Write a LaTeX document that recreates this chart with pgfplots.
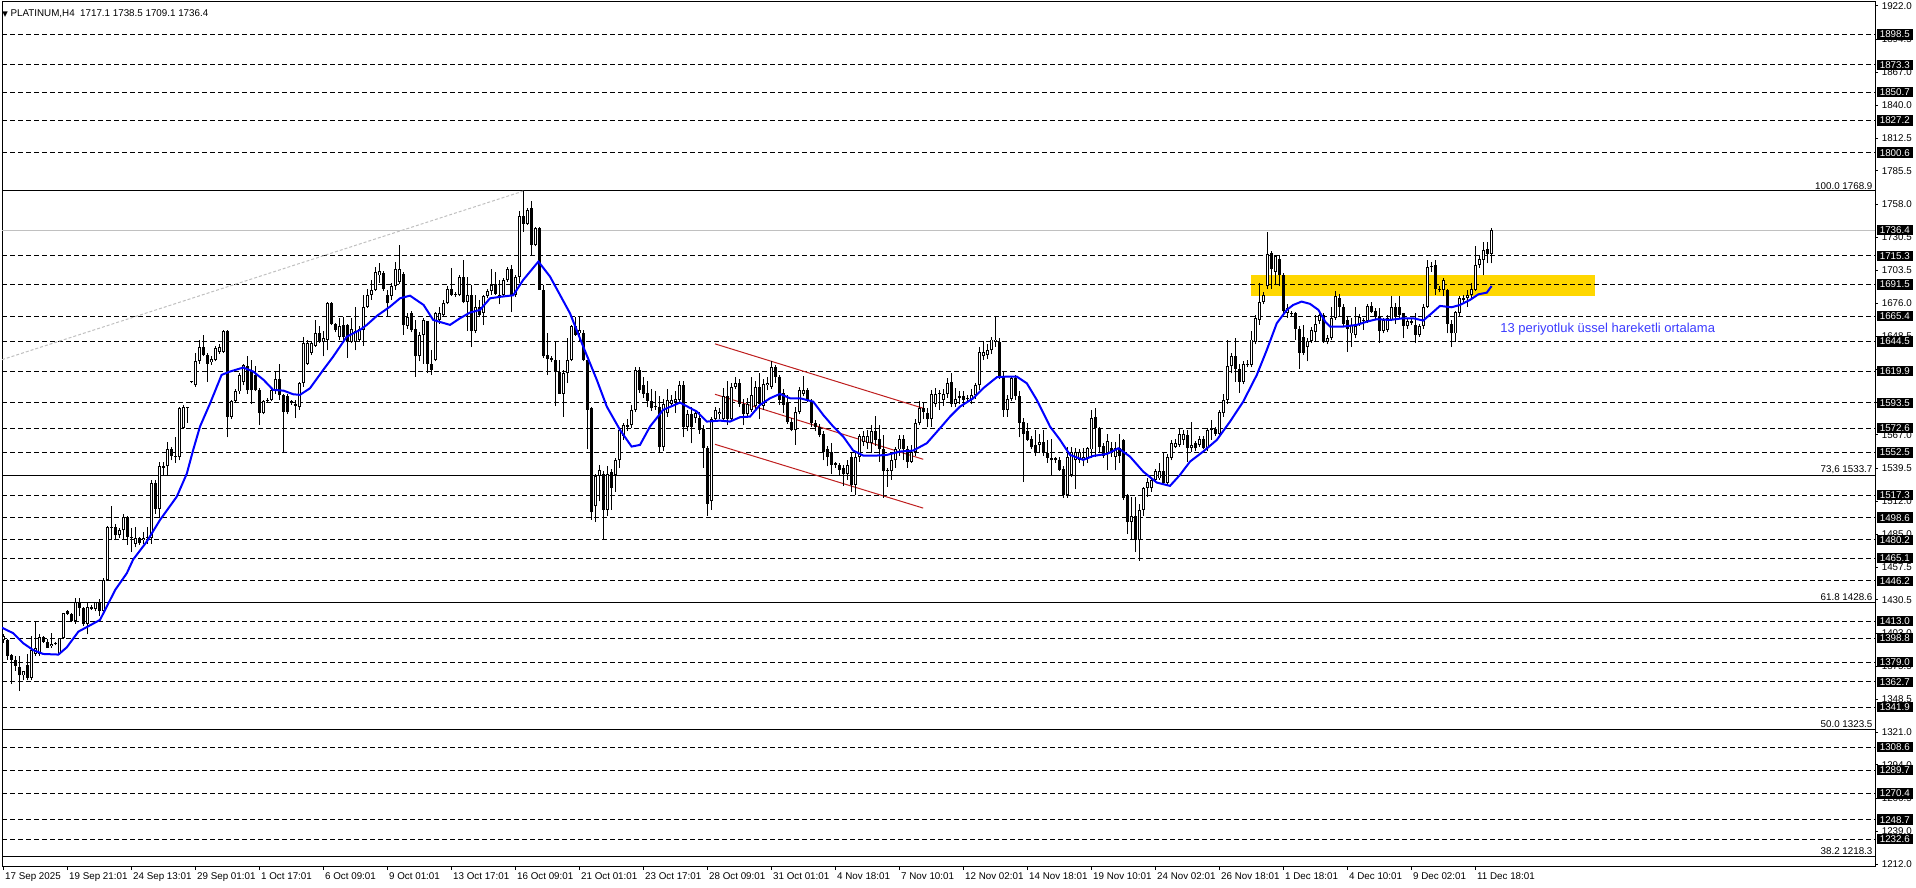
\documentclass[border=0pt]{standalone}
\usepackage{pgfplots}
\pgfplotsset{compat=1.18}
\usepackage{pgfplotstable}
\usepackage{fontspec}
\setmainfont{Liberation Sans}
\newfontfamily\dejavu{DejaVu Sans}
\definecolor{gold}{RGB}{255,215,0}
\definecolor{chanred}{RGB}{190,30,30}
\definecolor{emablue}{RGB}{0,0,255}
\definecolor{txtblue}{RGB}{60,60,255}
\definecolor{silverline}{RGB}{192,192,192}

\pgfplotstableread{
i o h l c
0 1397 1402 1395 1401
1 1397 1398 1381 1384
2 1385 1386 1361 1381
3 1381 1384 1372 1376
4 1375 1384 1355 1368
5 1368 1372 1364 1372
6 1377 1386 1364 1366
7 1366 1401 1364 1389
8 1386 1412 1384 1391
9 1386 1402 1384 1400
10 1400 1401 1395 1396
11 1396 1398 1391 1391
12 1392 1403 1391 1394
13 1395 1396 1393 1394
14 1386 1399 1385 1399
15 1399 1420 1398 1420
16 1421 1422 1418 1419
17 1419 1420 1412 1413
18 1413 1432 1411 1429
19 1429 1432 1417 1424
20 1424 1425 1409 1411
21 1411 1428 1402 1425
22 1425 1426 1422 1423
23 1423 1429 1421 1429
24 1429 1431 1417 1421
25 1421 1449 1420 1447
26 1447 1492 1446 1491
27 1490 1508 1480 1491
28 1491 1493 1480 1484
29 1484 1490 1482 1488
30 1488 1502 1480 1499
31 1499 1500 1476 1483
32 1483 1490 1470 1482
33 1477 1491 1474 1482
34 1482 1483 1476 1478
35 1480 1487 1477 1482
36 1483 1491 1477 1482
37 1482 1530 1477 1527
38 1527 1530 1502 1506
39 1506 1545 1498 1541
40 1540 1545 1533 1541
41 1541 1561 1533 1555
42 1555 1557 1546 1550
43 1550 1565 1544 1549
44 1549 1590 1546 1589
45 1573 1592 1572 1590
46 1589 1590 1577 1589
47 1611 1612 1610 1611
48 1608 1635 1607 1628
49 1628 1646 1626 1640
50 1640 1650 1632 1633
51 1633 1635 1611 1626
52 1627 1632 1625 1630
53 1629 1641 1628 1639
54 1636 1642 1634 1640
55 1636 1654 1635 1653
56 1653 1654 1565 1582
57 1582 1596 1580 1595
58 1595 1605 1594 1603
59 1603 1618 1601 1617
60 1611 1626 1608 1625
61 1624 1632 1601 1604
62 1620 1629 1593 1604
63 1617 1624 1603 1604
64 1604 1606 1575 1585
65 1585 1596 1584 1595
66 1595 1598 1594 1596
67 1596 1605 1595 1604
68 1604 1620 1601 1613
69 1613 1626 1596 1600
70 1600 1601 1552 1586
71 1599 1601 1584 1586
72 1595 1596 1592 1594
73 1593 1596 1581 1591
74 1590 1611 1588 1610
75 1610 1648 1607 1643
76 1626 1646 1625 1643
77 1635 1645 1633 1643
78 1641 1662 1640 1651
79 1651 1657 1643 1644
80 1644 1653 1632 1647
81 1646 1677 1637 1676
82 1676 1677 1658 1659
83 1659 1660 1652 1654
84 1648 1664 1646 1657
85 1658 1665 1646 1648
86 1658 1659 1631 1644
87 1644 1664 1643 1655
88 1644 1673 1637 1653
89 1646 1657 1644 1655
90 1654 1683 1641 1673
91 1673 1688 1672 1683
92 1683 1695 1679 1687
93 1687 1706 1686 1702
94 1699 1709 1693 1703
95 1701 1703 1686 1688
96 1683 1687 1665 1676
97 1682 1693 1679 1690
98 1690 1710 1687 1704
99 1694 1724 1692 1704
100 1700 1702 1650 1658
101 1657 1668 1655 1665
102 1668 1670 1652 1654
103 1655 1662 1615 1632
104 1632 1652 1628 1650
105 1650 1664 1626 1662
106 1661 1661 1618 1626
107 1626 1637 1617 1621
108 1629 1669 1628 1668
109 1662 1673 1659 1668
110 1666 1679 1665 1676
111 1676 1690 1675 1688
112 1688 1705 1682 1683
113 1683 1685 1681 1683
114 1683 1699 1682 1698
115 1698 1712 1676 1677
116 1677 1698 1653 1683
117 1683 1691 1640 1653
118 1653 1683 1651 1673
119 1673 1679 1665 1666
120 1668 1683 1658 1682
121 1682 1688 1680 1686
122 1686 1704 1683 1691
123 1692 1702 1683 1684
124 1683 1695 1675 1682
125 1683 1697 1681 1695
126 1695 1706 1694 1704
127 1704 1708 1669 1683
128 1683 1699 1681 1698
129 1698 1752 1693 1748
130 1748 1768.9 1735 1742
131 1742 1755 1741 1753
132 1755 1761 1716 1724
133 1724 1739 1723 1738
134 1738 1739 1687 1687
135 1687 1691 1631 1632
136 1633 1651 1617 1630
137 1631 1632 1627 1629
138 1629 1644 1591 1619
139 1619 1629 1601 1601
140 1601 1621 1582 1618
141 1618 1647 1610 1629
142 1629 1658 1628 1657
143 1657 1665 1649 1650
144 1651 1665 1644 1654
145 1651 1654 1628 1629
146 1629 1629 1555 1588
147 1589 1590 1497 1503
148 1508 1535 1495 1533
149 1533 1542 1512 1538
150 1535 1537 1481 1505
151 1505 1541 1500 1535
152 1536 1539 1505 1523
153 1534 1548 1520 1546
154 1546 1573 1540 1571
155 1566 1577 1563 1575
156 1574 1580 1570 1575
157 1575 1592 1573 1588
158 1588 1623 1586 1621
159 1621 1623 1602 1604
160 1608 1615 1598 1601
161 1602 1612 1590 1595
162 1595 1605 1587 1589
163 1591 1603 1588 1590
164 1590 1599 1553 1557
165 1557 1597 1554 1593
166 1585 1605 1582 1596
167 1593 1600 1590 1596
168 1594 1603 1585 1597
169 1596 1612 1594 1608
170 1608 1612 1565 1574
171 1574 1588 1570 1584
172 1584 1590 1560 1574
173 1581 1587 1577 1585
174 1581 1586 1568 1571
175 1572 1575 1540 1556
176 1556 1558 1500 1510
177 1512 1582 1505 1580
178 1580 1590 1578 1588
179 1584 1589 1580 1586
180 1580 1606 1578 1599
181 1599 1612 1575 1580
182 1580 1610 1578 1607
183 1607 1615 1605 1610
184 1610 1613 1590 1593
185 1593 1597 1575 1584
186 1584 1598 1582 1593
187 1588 1615 1586 1600
188 1591 1612 1588 1607
189 1607 1618 1580 1593
190 1591 1613 1588 1609
191 1608 1615 1604 1610
192 1607 1628 1605 1623
193 1623 1625 1610 1615
194 1615 1617 1592 1596
195 1602 1605 1585 1592
196 1594 1600 1576 1578
197 1578 1581 1570 1571
198 1571 1590 1559 1586
199 1586 1607 1584 1604
200 1601 1616 1599 1604
201 1604 1606 1594 1596
202 1594 1597 1574 1577
203 1577 1579 1570 1574
204 1574 1576 1565 1567
205 1568 1570 1546 1553
206 1555 1558 1541 1549
207 1553 1560 1535 1542
208 1544 1545 1540 1542
209 1542 1544 1534 1538
210 1540 1542 1525 1535
211 1535 1546 1530 1542
212 1549 1552 1520 1526
213 1526 1552 1517 1549
214 1549 1568 1545 1566
215 1561 1570 1558 1566
216 1560 1571 1555 1566
217 1560 1575 1552 1570
218 1570 1583 1558 1563
219 1564 1575 1545 1555
220 1555 1567 1515 1537
221 1537 1540 1524 1537
222 1537 1552 1530 1546
223 1546 1557 1540 1555
224 1555 1567 1550 1564
225 1564 1567 1546 1555
226 1555 1558 1540 1545
227 1545 1559 1544 1553
228 1553 1580 1550 1577
229 1577 1595 1575 1589
230 1589 1594 1580 1586
231 1585 1589 1574 1580
232 1580 1604 1574 1601
233 1593 1606 1590 1601
234 1601 1604 1588 1601
235 1596 1605 1591 1601
236 1601 1614 1598 1610
237 1611 1618 1590 1593
238 1593 1606 1590 1597
239 1599 1603 1593 1598
240 1599 1603 1590 1596
241 1597 1600 1594 1597
242 1596 1605 1593 1600
243 1600 1610 1597 1608
244 1608 1640 1604 1636
245 1632 1645 1629 1636
246 1633 1642 1630 1637
247 1637 1648 1634 1646
248 1644 1665 1640 1646
249 1644 1647 1613 1615
250 1615 1620 1582 1588
251 1588 1600 1582 1597
252 1597 1616 1595 1614
253 1614 1617 1596 1599
254 1599 1603 1565 1577
255 1578 1581 1528 1568
256 1570 1577 1562 1563
257 1564 1566 1555 1557
258 1559 1571 1550 1552
259 1559 1568 1552 1561
260 1561 1571 1550 1552
261 1552 1563 1544 1548
262 1548 1564 1534 1546
263 1548 1549 1544 1546
264 1546 1549 1537 1538
265 1539 1541 1515 1517
266 1517 1557 1515 1549
267 1534 1557 1532 1553
268 1546 1556 1522 1553
269 1546 1555 1544 1553
270 1547 1556 1541 1549
271 1548 1557 1544 1556
272 1555 1588 1548 1581
273 1582 1589 1549 1573
274 1573 1574 1552 1557
275 1558 1560 1548 1550
276 1552 1568 1538 1562
277 1556 1561 1549 1552
278 1549 1561 1538 1556
279 1556 1568 1544 1550
280 1563 1564 1513 1515
281 1517 1518 1485 1495
282 1495 1516 1480 1500
283 1500 1516 1470 1480
284 1480 1510 1463 1505
285 1505 1524 1500 1523
286 1523 1531 1516 1528
287 1523 1532 1520 1530
288 1530 1539 1528 1537
289 1531 1544 1530 1537
290 1537 1553 1526 1527
291 1527 1551 1525 1549
292 1548 1563 1546 1560
293 1557 1564 1556 1560
294 1559 1573 1557 1568
295 1563 1571 1559 1568
296 1567 1571 1545 1556
297 1556 1578 1553 1559
298 1560 1562 1554 1556
299 1559 1566 1557 1564
300 1564 1566 1555 1556
301 1556 1573 1554 1571
302 1571 1579 1563 1572
303 1572 1574 1566 1568
304 1568 1588 1566 1586
305 1585 1601 1582 1596
306 1596 1646 1593 1624
307 1624 1635 1618 1632
308 1632 1647 1611 1622
309 1622 1626 1602 1611
310 1611 1628 1609 1626
311 1625 1629 1623 1626
312 1625 1653 1623 1646
313 1644 1666 1642 1664
314 1662 1693 1658 1677
315 1677 1685 1675 1683
316 1690 1735 1688 1717
317 1718 1719 1688 1704
318 1702 1716 1691 1715
319 1713 1716 1690 1699
320 1699 1701 1668 1670
321 1668 1675 1664 1672
322 1667 1670 1665 1668
323 1668 1669 1646 1655
324 1655 1657 1622 1635
325 1648 1658 1633 1635
326 1640 1647 1628 1645
327 1645 1656 1643 1654
328 1652 1666 1644 1659
329 1661 1668 1659 1666
330 1666 1668 1643 1644
331 1644 1650 1642 1647
332 1647 1673 1646 1664
333 1664 1686 1662 1682
334 1680 1684 1665 1673
335 1673 1675 1657 1659
336 1662 1665 1636 1655
337 1651 1664 1640 1658
338 1650 1673 1647 1657
339 1659 1667 1657 1665
340 1661 1664 1654 1662
341 1661 1675 1660 1674
342 1674 1677 1668 1669
343 1670 1672 1663 1665
344 1665 1672 1643 1653
345 1653 1664 1651 1662
346 1654 1666 1652 1664
347 1662 1682 1661 1673
348 1673 1676 1659 1665
349 1673 1682 1664 1666
350 1668 1668 1647 1657
351 1657 1663 1655 1661
352 1660 1663 1658 1661
353 1658 1668 1643 1650
354 1650 1659 1648 1657
355 1657 1675 1655 1673
356 1673 1712 1672 1706
357 1706 1710 1702 1707
358 1708 1712 1683 1688
359 1688 1690 1685 1687
360 1687 1697 1682 1695
361 1687 1688 1651 1659
362 1659 1662 1640 1651
363 1651 1670 1644 1669
364 1668 1682 1665 1680
365 1679 1683 1677 1680
366 1680 1687 1673 1683
367 1683 1693 1679 1688
368 1687 1723 1686 1708
369 1708 1716 1705 1713
370 1712 1727 1699 1720
371 1721 1727 1709 1717
372 1717.1 1738.5 1709.1 1736.4
}\ohlc

\pgfplotstableread{
i v
-0.4 1407.5
2.4 1403
4.9 1394.7
7.4 1389
9.9 1385.8
13.7 1385.3
15.8 1391.3
18.7 1404.3
21 1408.4
24.1 1414
25.8 1425
27.9 1438.8
30.8 1452.6
32.4 1464
35.8 1478.8
39.1 1496.7
43.3 1516
45.8 1535
47.4 1554.7
49.1 1574
51.6 1593
54.5 1616.7
56.6 1619.5
59.9 1622.8
62.4 1619.5
65 1612.6
67.4 1604.3
70 1603.7
72.4 1600.7
74.1 1600.2
76.6 1605.7
79.9 1620.8
82.4 1631.9
85.8 1648.4
89.1 1653.9
90.8 1658.1
93.3 1665.5
96.6 1673.2
99.1 1680.1
101.6 1682.3
105 1674.6
107.4 1662.2
111.6 1658.1
114.1 1663.6
116.6 1668.3
119.1 1670.5
121.6 1680.1
124.1 1681.3
127.4 1682.6
129.9 1695.3
133.7 1710.5
136.6 1698.1
139.1 1682.9
141.6 1667.7
144.9 1640.2
148.3 1612.6
150.8 1590.5
154.1 1571.2
157 1557.4
159.1 1558.8
161.6 1574
164.9 1587.8
169.1 1593.8
173.3 1586.4
175.8 1578.1
179.1 1578.9
181.6 1578.1
184.1 1581.7
186.6 1582.2
189.1 1591.9
191.6 1597.4
194.1 1601
196.6 1597.4
199.1 1597.4
202.4 1594.6
204.9 1583.6
207.4 1574
209.9 1565.7
212.4 1554.1
214.9 1550
218.3 1550
220.8 1550.5
224.1 1553.3
227.4 1554.1
230.8 1560.2
234.1 1572.6
236.6 1582.2
239.1 1590.5
242.4 1597.4
244.9 1605.7
248.3 1614.8
250.8 1615.3
253.3 1615.3
255.8 1609.8
258.3 1596
261.6 1574
264.1 1563
266.6 1550.5
269.9 1546.4
272.4 1549.7
275.8 1551.3
278.7 1556
281.6 1549.1
284.9 1536.7
288.3 1527.6
291.6 1524.9
294.1 1534
296.6 1545
299.9 1553.3
303.3 1562.9
306.6 1578.1
309.9 1594.6
313.3 1616.7
315.8 1637.4
318.3 1659.5
320.8 1670.5
322.4 1674.6
324.5 1677.4
326.6 1675.5
328.7 1670.5
330.4 1660.8
331.6 1656.7
334.9 1656.7
338.3 1658.1
340.8 1660.8
343.3 1662.8
346.6 1662.2
349.9 1663.6
352.4 1663.6
354.9 1661.7
357 1667.7
359.1 1673.8
362 1672.7
364.1 1674.6
366.6 1678.8
368.7 1683.4
370.8 1684.8
372 1690.3
}\ema

\begin{document}
\begin{tikzpicture}
\begin{axis}[
  set layers,
  at={(1pt,10.5pt)}, anchor=south west,
  scale only axis, width=936.5pt, height=432.5pt,
  xmin=-0.4, xmax=467.85, ymin=1209.52, ymax=1925.31,
  clip mode=individual,
  axis line style={black, line width=0.5pt},
  ytick={1922.0,1894.5,1867.0,1840.0,1812.5,1785.5,1758.0,1730.5,1703.5,1676.0,1648.5,1621.0,1594.0,1567.0,1539.5,1512.0,1485.0,1457.5,1430.5,1403.0,1375.5,1348.5,1321.0,1294.0,1266.5,1239.0,1212.0},
  yticklabels={1922.0,1894.5,1867.0,1840.0,1812.5,1785.5,1758.0,1730.5,1703.5,1676.0,1648.5,1621.0,1594.0,1567.0,1539.5,1512.0,1485.0,1457.5,1430.5,1403.0,1375.5,1348.5,1321.0,1294.0,1266.5,1239.0,1212.0},
  ytick pos=right, yticklabel pos=right,
  xtick={0,16,32,48,64,80,96,112,128,144,160,176,192,208,224,240,256,272,288,304,320,336,352,368},
  xticklabels={17 Sep 2025,19 Sep 21:01,24 Sep 13:01,29 Sep 01:01,1 Oct 17:01,6 Oct 09:01,9 Oct 01:01,13 Oct 17:01,16 Oct 09:01,21 Oct 01:01,23 Oct 17:01,28 Oct 09:01,31 Oct 01:01,4 Nov 18:01,7 Nov 10:01,12 Nov 02:01,14 Nov 18:01,19 Nov 10:01,24 Nov 02:01,26 Nov 18:01,1 Dec 18:01,4 Dec 10:01,9 Dec 02:01,11 Dec 18:01},
  xtick pos=bottom,
  tick align=outside, major tick length=1.6pt,
  tick style={black, line width=0.5pt},
  ticklabel style={font=\fontsize{4.9}{5.8}\selectfont, text=black},
  xticklabel style={anchor=north west, inner xsep=0.6pt, inner ysep=1.2pt},
  yticklabel style={anchor=west, inner xsep=1.6pt},
]
% yellow zone
\fill[gold] (axis cs:311.85,1682.3) rectangle (axis cs:397.85,1699.4);
% dashed support/resistance lines
\pgfplotsinvokeforeach{1898.5,1873.3,1850.7,1827.2,1800.6,1715.3,1691.5,1665.4,1644.5,1619.9,1593.5,1572.6,1552.5,1517.3,1498.6,1480.2,1465.1,1446.2,1413.0,1398.8,1379.0,1362.7,1341.9,1308.6,1289.7,1270.4,1248.7,1232.6}{
  \draw[black, line width=0.5pt, dash pattern=on 2.5pt off 1.5pt] (axis cs:-0.4,#1) -- (axis cs:467.85,#1);
}
% fibonacci levels
\pgfplotsinvokeforeach{1768.9,1533.7,1428.6,1323.5,1218.3}{
  \draw[black, line width=0.5pt] (axis cs:-0.4,#1) -- (axis cs:467.85,#1);
}
% bid line
\draw[silverline, line width=0.5pt] (axis cs:-0.4,1736.4) -- (axis cs:467.85,1736.4);
% fibo base (dotted)
\addplot[silverline, line width=0.5pt, dash pattern=on 1.5pt off 1pt] coordinates {(-0.4,1629.3) (130,1768.9)};
% channel
\addplot[chanred, line width=0.5pt] coordinates {(177.85,1642.4) (229.9,1589.1)};
\addplot[chanred, line width=0.5pt] coordinates {(177.85,1600.7) (229.9,1546.9)};
\addplot[chanred, line width=0.5pt] coordinates {(177.85,1559.3) (229.9,1506.5)};
% candles: wicks
\addplot[draw=none, mark=none, error bars/.cd, y dir=plus, y explicit, error mark=none,
  error bar style={draw=black, line width=0.5pt, solid}]
  table[x=i, y=l, y error plus expr={\thisrow{h}-\thisrow{l}}] {\ohlc};
% bodies
\addplot[draw=none, mark=none, error bars/.cd, y dir=plus, y explicit, error mark=none,
  error bar style={draw=black, line width=1.5pt, solid}]
  table[x=i, y expr={min(\thisrow{o},\thisrow{c})}, y error plus expr={max(abs(\thisrow{c}-\thisrow{o}),0.85)}] {\ohlc};
% hollow bullish bodies
\addplot[draw=none, mark=none, error bars/.cd, y dir=plus, y explicit, error mark=none,
  error bar style={draw=white, line width=0.5pt, solid}]
  table[x=i, y expr={\thisrow{o}+0.8}, y error plus expr={max(\thisrow{c}-\thisrow{o}-1.6,0)}] {\ohlc};
% EMA 13
\addplot[emablue, line width=1pt, mark=none] table[x=i, y=v] {\ema};
% fibo labels
\node[font=\fontsize{4.9}{5.8}\selectfont, inner sep=0.6pt, anchor=south east] at (axis cs:467.6,1768.9) {100.0 1768.9};
\node[font=\fontsize{4.9}{5.8}\selectfont, inner sep=0.6pt, anchor=south east] at (axis cs:467.6,1533.7) {73,6 1533.7};
\node[font=\fontsize{4.9}{5.8}\selectfont, inner sep=0.6pt, anchor=south east] at (axis cs:467.6,1428.6) {61.8 1428.6};
\node[font=\fontsize{4.9}{5.8}\selectfont, inner sep=0.6pt, anchor=south east] at (axis cs:467.6,1323.5) {50.0 1323.5};
\node[font=\fontsize{4.9}{5.8}\selectfont, inner sep=0.6pt, anchor=south east] at (axis cs:467.6,1218.3) {38.2 1218.3};
% text
\node[anchor=west, inner sep=0pt, text=txtblue, font=\fontsize{6.5}{7.5}\selectfont] at (axis cs:374.1,1654.7) {13 periyotluk üssel hareketli ortalama};
\node[anchor=west, inner sep=0pt, font=\fontsize{4.9}{5.8}\selectfont] at (axis cs:-0.4,1915.3) {{\dejavu\fontsize{3.6}{4}\selectfont ▼}\ PLATINUM,H4\ \ 1717.1 1738.5 1709.1 1736.4};
% price boxes
\pgfplotsinvokeforeach{1898.5,1873.3,1850.7,1827.2,1800.6,1736.4,1715.3,1691.5,1665.4,1644.5,1619.9,1593.5,1572.6,1552.5,1517.3,1498.6,1480.2,1465.1,1446.2,1413.0,1398.8,1379.0,1362.7,1341.9,1308.6,1289.7,1270.4,1248.7,1232.6}{
  \node[anchor=west, fill=black, text=white, inner xsep=1.6pt, inner ysep=0.7pt, text height=3.6pt, text depth=0.2pt, minimum width=18pt, font=\fontsize{4.9}{5.8}\selectfont] at (axis cs:467.85,#1) [xshift=0.6pt] {#1};
}
\end{axis}
\pgfresetboundingbox
\path[use as bounding box] (0,0) rectangle (958pt,444pt);
\end{tikzpicture}
\end{document}
